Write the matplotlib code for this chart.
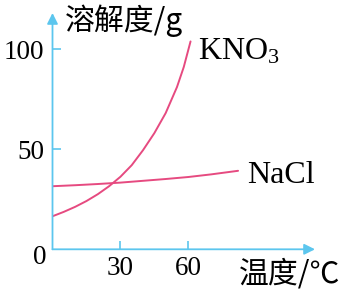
import matplotlib
matplotlib.use("Agg")
import matplotlib.pyplot as plt

# data
kno3_t = [0, 5, 10, 15, 20, 25, 30, 35, 40, 45, 50, 55, 58, 61]
kno3_v = [16.5, 18.7, 21.2, 24.1, 27.5, 31.5, 36.2, 42, 49.5, 58, 68, 81, 91, 103.8]
nacl_t = [0, 10, 20, 30, 40, 50, 60, 70, 82]
nacl_v = [31.5, 32.0, 32.6, 33.3, 34.2, 35.1, 36.1, 37.4, 39.2]
xticks = [30, 60]
yticks = [50, 100]
xlabel = "温度/℃"
ylabel = "溶解度/g"
labels = {"KNO3": "KNO$_3$", "NaCl": "NaCl"}

plt.rcParams['mathtext.fontset'] = 'custom'
plt.rcParams['mathtext.rm'] = 'Liberation Serif'
plt.rcParams['mathtext.it'] = 'Liberation Serif'

axis_c = '#5cc6ee'
curve_c = '#e64a80'
serif = ['Liberation Serif', 'DejaVu Serif']
cjk = ['Noto Sans CJK SC', 'DejaVu Sans']

W, H = 345, 290
fig = plt.figure(figsize=(W / 100, H / 100), dpi=100)
x0, y0, x1, y1 = 52.5, 249.3, 315, 13
ax = fig.add_axes([x0 / W, (H - y0) / H, (x1 - x0) / W, (y0 - y1) / H])
ax.set_xlim(0, 116)
ax.set_ylim(0, 118)
for s in ax.spines.values():
    s.set_visible(False)

ax.annotate('', xy=(1, 0), xytext=(0, 0), xycoords='axes fraction',
            arrowprops=dict(arrowstyle='-|>', color=axis_c, lw=1.3,
                            mutation_scale=16, shrinkA=0, shrinkB=0))
ax.annotate('', xy=(0, 1), xytext=(0, 0), xycoords='axes fraction',
            arrowprops=dict(arrowstyle='-|>', color=axis_c, lw=1.3,
                            mutation_scale=16, shrinkA=0, shrinkB=0))

ax.set_xticks(xticks)
ax.set_yticks(yticks)
ax.tick_params(direction='in', length=6, width=1.2, color=axis_c, pad=5)
for lab in ax.get_xticklabels() + ax.get_yticklabels():
    lab.set_fontfamily(serif)
    lab.set_fontsize(19.5)
ax.tick_params(axis='y', pad=6)

ax.plot(kno3_t, kno3_v, color=curve_c, lw=1.4, solid_capstyle='round', solid_joinstyle='round')
ax.plot(nacl_t, nacl_v, color=curve_c, lw=1.4, solid_capstyle='round', solid_joinstyle='round')

ax.text(-5.5, -4, '0', fontsize=19.5, family=serif, ha='center', va='center')
ax.text(64.2, 94.6, labels["KNO3"], fontsize=23, family=serif, ha='left', va='baseline')
ax.text(86.2, 33.2, labels["NaCl"], fontsize=23, family=serif, ha='left', va='baseline')
fig.text(290 / W, 1 - 274 / H, xlabel, fontsize=21.5, family=cjk, ha='center', va='center')
fig.text(123.5 / W, 1 - 21 / H, ylabel, fontsize=21.5, family=cjk, ha='center', va='center')

fig.savefig('out.png', dpi=100)
